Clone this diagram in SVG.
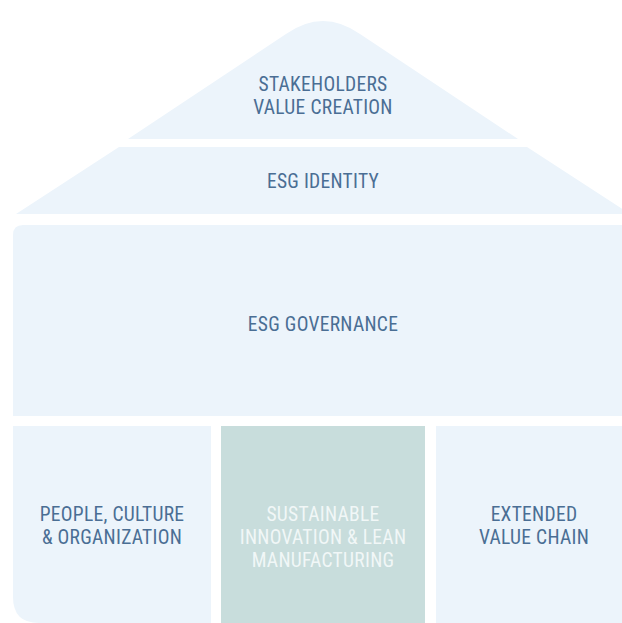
<svg xmlns="http://www.w3.org/2000/svg" width="622" height="623" viewBox="0 0 622 623">
  <style>
    .panel { fill: #ECF4FB; }
    .accent { fill: #C8DDDC; }
    .lbl { font-family: "Liberation Sans Narrow", "Roboto Condensed", "DejaVu Sans Condensed", "Liberation Sans", sans-serif; font-size: 19.5px; letter-spacing: 0.3px; fill: #4A6E94; text-anchor: middle; }
    .lbl-light { fill: #F1F7F7; }
  </style>
  <rect width="622" height="623" fill="#FFFFFF"/>
  <g id="stakeholders">
    <path class="panel" d="M128,139 L286,34 Q323,8 360,34 L518,139 Z"/>
    <text class="lbl" x="323" y="91">STAKEHOLDERS</text>
    <text class="lbl" x="323" y="114">VALUE CREATION</text>
  </g>
  <g id="esg-identity">
    <path class="panel" d="M119,147 L527,147 L630,214 L16,214 Z"/>
    <text class="lbl" x="323" y="188">ESG IDENTITY</text>
  </g>
  <g id="esg-governance">
    <path class="panel" d="M13,235 Q13,225 23,225 L623,225 Q633,225 633,235 L633,416 L13,416 Z"/>
    <text class="lbl" x="323" y="331">ESG GOVERNANCE</text>
  </g>
  <g id="people">
    <path class="panel" d="M13,426 L211,426 L211,623 L39,623 Q13,623 13,597 Z"/>
    <text class="lbl" x="112" y="521">PEOPLE, CULTURE</text>
    <text class="lbl" x="112" y="544">&amp; ORGANIZATION</text>
  </g>
  <g id="sustainable">
    <rect class="accent" x="221" y="426" width="204" height="197"/>
    <text class="lbl lbl-light" x="323" y="521">SUSTAINABLE</text>
    <text class="lbl lbl-light" x="323" y="544">INNOVATION &amp; LEAN</text>
    <text class="lbl lbl-light" x="323" y="567">MANUFACTURING</text>
  </g>
  <g id="value-chain">
    <rect class="panel" x="436" y="426" width="198" height="197"/>
    <text class="lbl" x="534" y="521">EXTENDED</text>
    <text class="lbl" x="534" y="544">VALUE CHAIN</text>
  </g>
  <g id="connectors"/>
</svg>
